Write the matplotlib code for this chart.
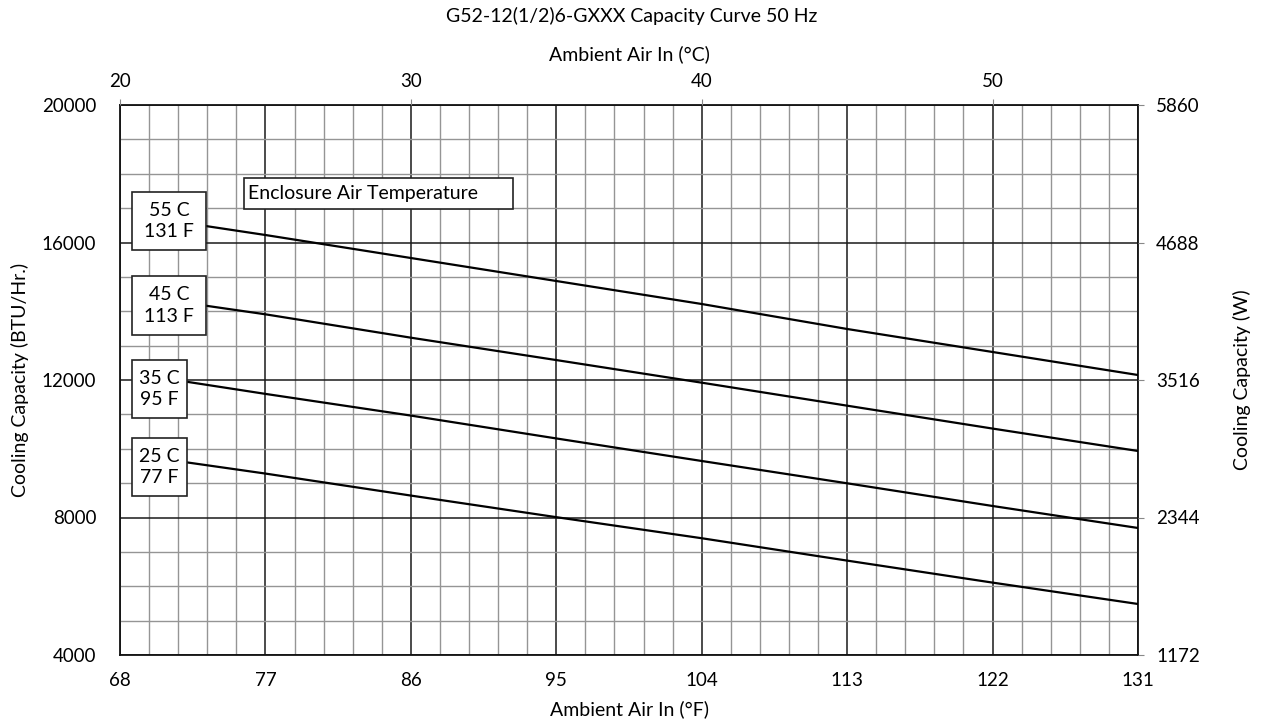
import numpy as np
import matplotlib.pyplot as plt
from matplotlib.patches import Rectangle

plt.rcParams['font.family'] = ['Lato', 'DejaVu Sans']

# Ambient air in (deg F) where each curve was read, and capacity in BTU/Hr.
temp_f = [77, 86, 95, 104, 113, 122, 131]
curves = {
    '55 C\n131 F': {'start': (73.3, 16480), 'values': [16218, 15549, 14880, 14211, 13484, 12815, 12145]},
    '45 C\n113 F': {'start': (73.3, 14162), 'values': [13911, 13231, 12580, 11922, 11253, 10587, 9935]},
    '35 C\n95 F': {'start': (72.1, 11951), 'values': [11596, 10965, 10300, 9644, 8995, 8335, 7695]},
    '25 C\n77 F': {'start': (72.1, 9606), 'values': [9278, 8638, 8010, 7397, 6746, 6106, 5484]},
}
# label boxes: (left F, right F, bottom BTU, top BTU)
label_box = {
    '55 C\n131 F': (68.74, 73.32, 15782, 17469),
    '45 C\n113 F': (68.74, 73.32, 13309, 15025),
    '35 C\n95 F': (68.74, 72.14, 10895, 12582),
    '25 C\n77 F': (68.74, 72.14, 8625, 10313),
}

btu_ticks = [4000, 8000, 12000, 16000, 20000]
watt_ticks = [1172, 2344, 3516, 4688, 5860]
f_ticks = [68, 77, 86, 95, 104, 113, 122, 131]
c_ticks = [20, 30, 40, 50]

FS = 14
TS = 13.5

fig = plt.figure(figsize=(12.63, 7.25), dpi=100)
ax = fig.add_axes([120 / 1263, 70 / 725, 1018 / 1263, 550 / 725])

ax.set_xlim(68, 131)
ax.set_ylim(4000, 20000)
ax.set_xticks(f_ticks)
ax.set_yticks(btu_ticks)
# minor grid: every 1 deg C and every 1000 BTU/Hr.
ax.set_xticks(np.arange(68, 131.01, 1.8), minor=True)
ax.set_yticks(np.arange(4000, 20001, 1000), minor=True)
ax.grid(which='minor', color='#959595', lw=1.0)
ax.grid(which='major', color='#1a1a1a', lw=1.1)
ax.tick_params(which='minor', length=0)
ax.tick_params(axis='y', which='major', length=0, labelsize=TS, pad=17)
ax.tick_params(axis='x', which='major', length=0, labelsize=TS, pad=12)
for s in ax.spines.values():
    s.set_color('#111111')
    s.set_linewidth(1.3)

for name, c in curves.items():
    xs = [c['start'][0]] + temp_f
    ys = [c['start'][1]] + c['values']
    ax.plot(xs, ys, color='black', lw=1.6, zorder=3)
    x0, x1, y0, y1 = label_box[name]
    ax.add_patch(Rectangle((x0, y0), x1 - x0, y1 - y0, fc='white', ec='#222222',
                           lw=1.2, zorder=4))
    ax.text((x0 + x1) / 2, (y0 + y1) / 2, name, ha='center', va='center', fontsize=FS,
            linespacing=1.3, zorder=5)

ax.add_patch(Rectangle((75.67, 16964), 92.3 - 75.67, 17862 - 16964, fc='white',
                       ec='#222222', lw=1.2, zorder=4))
ax.text(75.95, 17413, 'Enclosure Air Temperature', ha='left', va='center', fontsize=FS, zorder=5)

ax.set_xlabel('Ambient Air In (°F)', fontsize=FS, labelpad=8)
ax.set_ylabel('Cooling Capacity (BTU/Hr.)', fontsize=FS, labelpad=9)

# top axis in deg C
axc = ax.twiny()
axc.set_xlim((68 - 32) / 1.8, (131 - 32) / 1.8)
axc.set_xticks(c_ticks)
axc.tick_params(length=4, color='#888888', labelsize=TS, pad=7)
axc.set_xlabel('Ambient Air In (°C)', fontsize=FS, labelpad=9)

# right axis in W
axw = ax.twinx()
axw.set_ylim(1172, 5860)
axw.set_yticks(watt_ticks)
axw.tick_params(length=4, color='#888888', labelsize=TS, pad=9)
axw.set_ylabel('Cooling Capacity (W)', fontsize=FS, labelpad=24)
for a in (axc, axw):
    for s in a.spines.values():
        s.set_visible(False)

fig.suptitle('G52-12(1/2)6-GXXX Capacity Curve 50 Hz', fontsize=FS, y=0.991)

fig.savefig('out.png', dpi=100)
